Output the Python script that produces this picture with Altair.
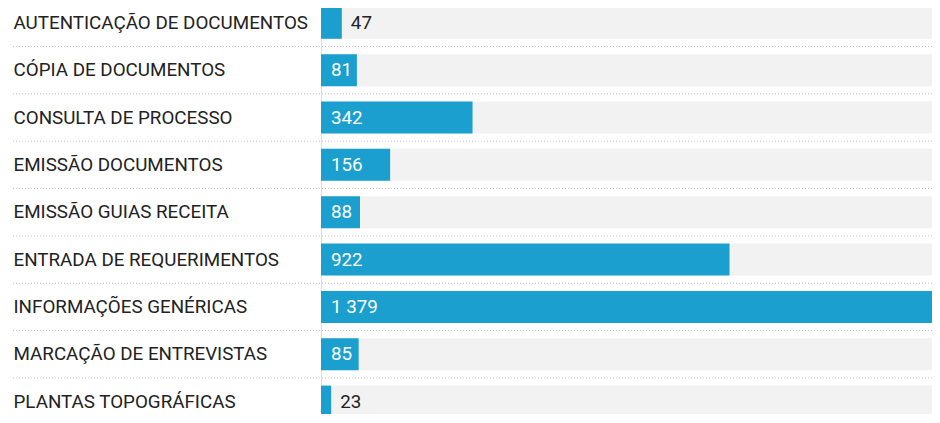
import altair as alt
import pandas as pd

categories = [
    "AUTENTICAÇÃO DE DOCUMENTOS",
    "CÓPIA DE DOCUMENTOS",
    "CONSULTA DE PROCESSO",
    "EMISSÃO DOCUMENTOS",
    "EMISSÃO GUIAS RECEITA",
    "ENTRADA DE REQUERIMENTOS",
    "INFORMAÇÕES GENÉRICAS",
    "MARCAÇÃO DE ENTREVISTAS",
    "PLANTAS TOPOGRÁFICAS",
]
values = [47, 81, 342, 156, 88, 922, 1379, 85, 23]

df = pd.DataFrame({"servico": categories, "valor": values})

W = 611
H = 406
STEP = 47.35
Y_TOP = 14.8 - STEP / 2
BLUE = "#1a9fcf"
FONT = "Roboto"
FS = 18.8

yscale = alt.Scale(range=[Y_TOP, Y_TOP + STEP * len(categories)], paddingInner=0, paddingOuter=0)
yaxis = alt.Axis(
    title=None, labelAlign="left", labelPadding=308, ticks=False, domain=False,
    labelFont=FONT, labelFontSize=FS, labelColor="#222222", labelLimit=400,
    labelBaseline="middle", grid=False,
)


def Y(**kw):
    return alt.Y("servico:N", sort=categories, scale=yscale, axis=yaxis, **kw)


xscale = alt.Scale(zero=True, nice=False)

base = alt.Chart(df).transform_calculate(
    rotulo="replace(format(datum.valor, ','), ',', ' ')"
)

bg = base.mark_bar(size=32, color="#f2f2f2").encode(
    y=Y(), x=alt.value(0), x2=alt.value(W)
)

sep = base.mark_rule(color="#c4c4c4", strokeDash=[1, 2], strokeWidth=1).encode(
    y=Y(bandPosition=1), x=alt.value(-308), x2=alt.value(W)
)

bars = base.mark_bar(size=32, color=BLUE).encode(
    y=Y(), x=alt.X("valor:Q", scale=xscale, axis=None)
)

inside = base.transform_filter("datum.valor >= 60").transform_calculate(zero="0").mark_text(
    align="left", baseline="middle", dx=10, font=FONT, fontSize=FS, color="white"
).encode(y=Y(), x=alt.X("zero:Q", scale=xscale, axis=None), text="rotulo:N")

outside = base.transform_filter("datum.valor < 60").mark_text(
    align="left", baseline="middle", dx=9, font=FONT, fontSize=FS, color="#222222"
).encode(y=Y(), x=alt.X("valor:Q", scale=xscale, axis=None), text="rotulo:N")

chart = alt.layer(bg, sep, bars, inside, outside).properties(
    width=W, height=H,
    autosize=alt.AutoSizeParams(type="none"),
    padding={"left": 313, "top": 0, "right": 0, "bottom": 0},
).configure_view(stroke=None).configure(background="white")

chart.save("out.html", embed_options={"renderer": "svg", "actions": False})
